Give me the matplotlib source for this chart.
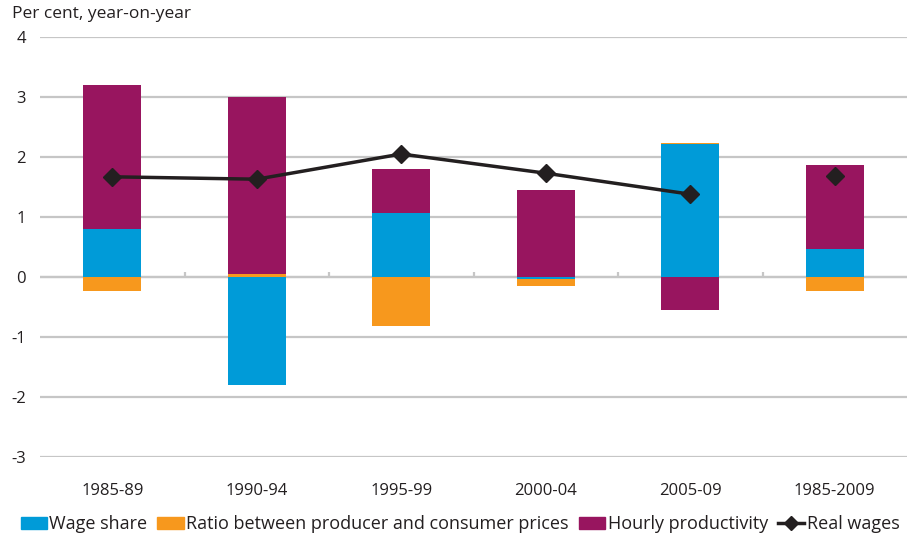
import numpy as np
import matplotlib.pyplot as plt
from matplotlib.patches import Patch
from matplotlib.lines import Line2D

plt.rcParams['font.family'] = ['Open Sans', 'DejaVu Sans']

# contributions, per cent year-on-year
periods = ['1985-89', '1990-94', '1995-99', '2000-04', '2005-09', '1985-2009']
wage_share = [0.80, -1.80, 1.07, -0.03, 2.22, 0.46]
price_ratio = [-0.23, 0.05, -0.81, -0.12, 0.02, -0.23]
productivity = [2.40, 2.95, 0.73, 1.45, -0.55, 1.41]
real_wages = [1.67, 1.63, 2.05, 1.73, 1.38, 1.69]

blue = '#009bd8'
orange = '#f7981d'
purple = '#98155f'
dark = '#231f20'

fig = plt.figure(figsize=(9.07, 5.39), dpi=100)
ax = fig.add_axes([40 / 907, 82 / 539, 867 / 907, 420 / 539])

x = np.arange(len(periods))
w = 0.4

# stack positives upwards and negatives downwards
pos = np.zeros(len(x))
neg = np.zeros(len(x))
for vals, col in [(wage_share, blue), (price_ratio, orange), (productivity, purple)]:
    vals = np.array(vals)
    base = np.where(vals >= 0, pos, neg)
    ax.bar(x, vals, w, bottom=base, color=col, zorder=3, linewidth=0)
    pos = pos + np.where(vals >= 0, vals, 0)
    neg = neg + np.where(vals < 0, vals, 0)

# real wages: line over the five-year periods, lone marker for the whole span
ax.plot(x[:5], real_wages[:5], color=dark, lw=2.5, marker='D', ms=9, zorder=5)
ax.plot(x[5], real_wages[5], color=dark, lw=0, marker='D', ms=9, zorder=5)

ax.set_xlim(-0.5, len(x) - 0.5)
ax.set_ylim(-3, 4)
ax.set_yticks(range(-3, 5))
ax.set_yticklabels([str(v) for v in range(-3, 5)], fontsize=12, color=dark)
ax.yaxis.grid(True, color='#c6c6c6', lw=1.6, zorder=0)
ax.axhline(0, color='#c6c6c6', lw=1.6, zorder=1)
ax.set_xticks(x)
ax.set_xticklabels(periods, fontsize=12, color=dark)
ax.tick_params(axis='both', length=0)
ax.tick_params(axis='y', pad=10)
ax.tick_params(axis='x', pad=19)
for s in ax.spines.values():
    s.set_visible(False)

# category separators on the zero line
ax.vlines(x[:-1] + 0.5, 0, 0.09, color='#c6c6c6', lw=1.6, zorder=1)

fig.text(12 / 907, 1 - 14 / 539, 'Per cent, year-on-year', fontsize=12.5,
         color=dark, va='center', ha='left')

handles = [Patch(color=blue), Patch(color=orange), Patch(color=purple),
           Line2D([], [], color=dark, lw=2.5, marker='D', ms=7)]
labels = ['Wage share', 'Ratio between producer and consumer prices',
          'Hourly productivity', 'Real wages']
fig.legend(handles, labels, loc='center', bbox_to_anchor=(460 / 907, 1 - 524 / 539),
           ncol=4, frameon=False, fontsize=13, handlelength=1.45, handleheight=0.65,
           handletextpad=0.15, columnspacing=0.55, labelcolor=dark)

fig.savefig('out.png', dpi=100)
